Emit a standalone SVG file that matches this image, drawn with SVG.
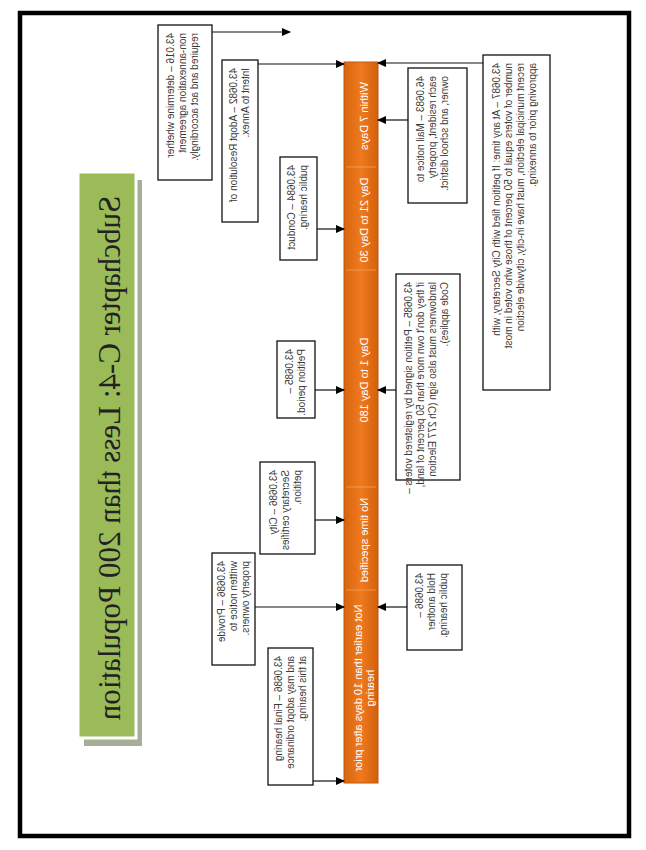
<svg xmlns="http://www.w3.org/2000/svg" width="646" height="850" viewBox="0 0 646 850">
<defs>
<marker id="ah" markerWidth="9" markerHeight="9" refX="8" refY="4.5" orient="auto" markerUnits="userSpaceOnUse">
<path d="M0,0.5 L9,4.5 L0,8.5 z" fill="#000"/>
</marker>
<linearGradient id="og" x1="0" y1="0" x2="0" y2="1">
<stop offset="0" stop-color="#D8640F"/>
<stop offset="0.5" stop-color="#EF7A1E"/>
<stop offset="1" stop-color="#D2600C"/>
</linearGradient>
<style>
.box{fill:#fff;stroke:#111;stroke-width:1.3}
.bt{font-family:"Liberation Sans Narrow","Liberation Sans",Arial,sans-serif;font-size:10px;fill:#3a3a3a}
.lab{font-family:"Liberation Sans Narrow","Liberation Sans",Arial,sans-serif;font-size:11px;fill:#fff;text-anchor:middle}
.cn{stroke:#111;stroke-width:1.2;fill:none;marker-end:url(#ah)}
.sep{stroke:#F5A868;stroke-width:1;opacity:0.7}
</style>
</defs>
<rect width="646" height="850" fill="#fff"/>
<g transform="matrix(0 1 1 0 0 0)">
<g id="border"><rect x="13" y="20" width="823" height="609" fill="none" stroke="#000" stroke-width="4.5"/></g>
<g id="title">
<rect x="180" y="84" width="566" height="58" fill="#A7AE98"/>
<rect x="172" y="78" width="566" height="58" fill="#9BBB59" stroke="#fff" stroke-width="3"/>
<text x="458" y="120" text-anchor="middle" font-family="'Liberation Serif','Times New Roman',serif" font-size="31" fill="#222">Subchapter C-4: Less than 200 Population</text>
</g>
<g id="timeline">
<rect x="62" y="344" width="721" height="34" fill="url(#og)" stroke="#C0560C" stroke-width="1"/>
<line class="sep" x1="167" y1="346" x2="167" y2="376"/>
<line class="sep" x1="270" y1="346" x2="270" y2="376"/>
<line class="sep" x1="487" y1="346" x2="487" y2="376"/>
<line class="sep" x1="590" y1="346" x2="590" y2="376"/>
<text class="lab" x="116" y="368">Within 7 Days</text>
<text class="lab" x="220" y="368">Day 21 to Day 30</text>
<text class="lab" x="380" y="368">Day 1 to Day 180</text>
<text class="lab" x="540" y="368">No time specified</text>
<text class="lab" x="688" y="362">Not earlier than 10 days after prior</text>
<text class="lab" x="688" y="374">hearing</text>
</g>
<g id="n43016">
<rect class="box" x="25" y="158" width="155" height="54"/>
<text class="bt" x="33" y="174">43.016 – determine whether</text>
<text class="bt" x="33" y="186">non-annexation agreement</text>
<text class="bt" x="33" y="198">required and act accordingly.</text>
</g>
<g id="n430682">
<rect class="box" x="60" y="222" width="162" height="36"/>
<text class="bt" x="68" y="237">43.0682 – Adopt Resolution of</text>
<text class="bt" x="68" y="249">Intent to Annex.</text>
</g>
<g id="n430684">
<rect class="box" x="157" y="280" width="103" height="37"/>
<text class="bt" x="165" y="295">43.0684 – Conduct</text>
<text class="bt" x="165" y="307">public hearing.</text>
</g>
<g id="n430685a">
<rect class="box" x="341" y="277" width="77" height="38"/>
<text class="bt" x="349" y="293">43.0685 –</text>
<text class="bt" x="349" y="305">Petition period.</text>
</g>
<g id="n430686a">
<rect class="box" x="462" y="260" width="92" height="55"/>
<text class="bt" x="470" y="277">43.0686 – City</text>
<text class="bt" x="470" y="289">Secretary certifies</text>
<text class="bt" x="470" y="301">petition.</text>
</g>
<g id="n430686b">
<rect class="box" x="553" y="212" width="112" height="43"/>
<text class="bt" x="561" y="225">43.0686 – Provide</text>
<text class="bt" x="561" y="237">written notice to</text>
<text class="bt" x="561" y="249">property owners.</text>
</g>
<g id="n430686c">
<rect class="box" x="648" y="268" width="137" height="45"/>
<text class="bt" x="656" y="282">43.0686 – Final hearing</text>
<text class="bt" x="656" y="294">and may adopt ordinance</text>
<text class="bt" x="656" y="306">at this hearing.</text>
</g>
<g id="n460683">
<rect class="box" x="68" y="408" width="135" height="59"/>
<text class="bt" x="76" y="424">46.0683 – Mail notice to</text>
<text class="bt" x="76" y="436">each resident, property</text>
<text class="bt" x="76" y="448">owner, and school district.</text>
</g>
<g id="n430685b">
<rect class="box" x="274" y="396" width="206" height="64"/>
<text class="bt" x="282" y="412">43.0685 – Petition signed by registered voters –</text>
<text class="bt" x="282" y="424">if they don't own more than 50 percent of land,</text>
<text class="bt" x="282" y="436">landowners must also sign (Ch 277 Election</text>
<text class="bt" x="282" y="448">Code applies).</text>
</g>
<g id="n430687">
<rect class="box" x="55" y="483" width="335" height="67"/>
<text class="bt" x="63" y="500">43.0687 – At any time: If petition filed with City Secretary, with</text>
<text class="bt" x="63" y="512">number of voters equal to 50 percent of those who voted in most</text>
<text class="bt" x="63" y="524">recent municipal election, must have in-city, citywide election</text>
<text class="bt" x="63" y="536">approving prior to annexing.</text>
</g>
<g id="n430686d">
<rect class="box" x="565" y="407" width="85" height="55"/>
<text class="bt" x="573" y="423">43.0686 –</text>
<text class="bt" x="573" y="435">Hold another</text>
<text class="bt" x="573" y="447">public hearing.</text>
</g>
<g id="connectors">
<line class="cn" x1="32" y1="212" x2="32" y2="290"/>
<line class="cn" x1="64" y1="258" x2="64" y2="344"/>
<line class="cn" x1="229" y1="317" x2="229" y2="344"/>
<line class="cn" x1="390" y1="315" x2="390" y2="344"/>
<line class="cn" x1="520" y1="315" x2="520" y2="344"/>
<line class="cn" x1="607" y1="255" x2="607" y2="344"/>
<line class="cn" x1="781" y1="313" x2="781" y2="344"/>
<line class="cn" x1="63" y1="483" x2="63" y2="378"/>
<line class="cn" x1="120" y1="408" x2="120" y2="378"/>
<line class="cn" x1="390" y1="396" x2="390" y2="378"/>
<line class="cn" x1="607" y1="407" x2="607" y2="378"/>
</g>
</g>
</svg>
